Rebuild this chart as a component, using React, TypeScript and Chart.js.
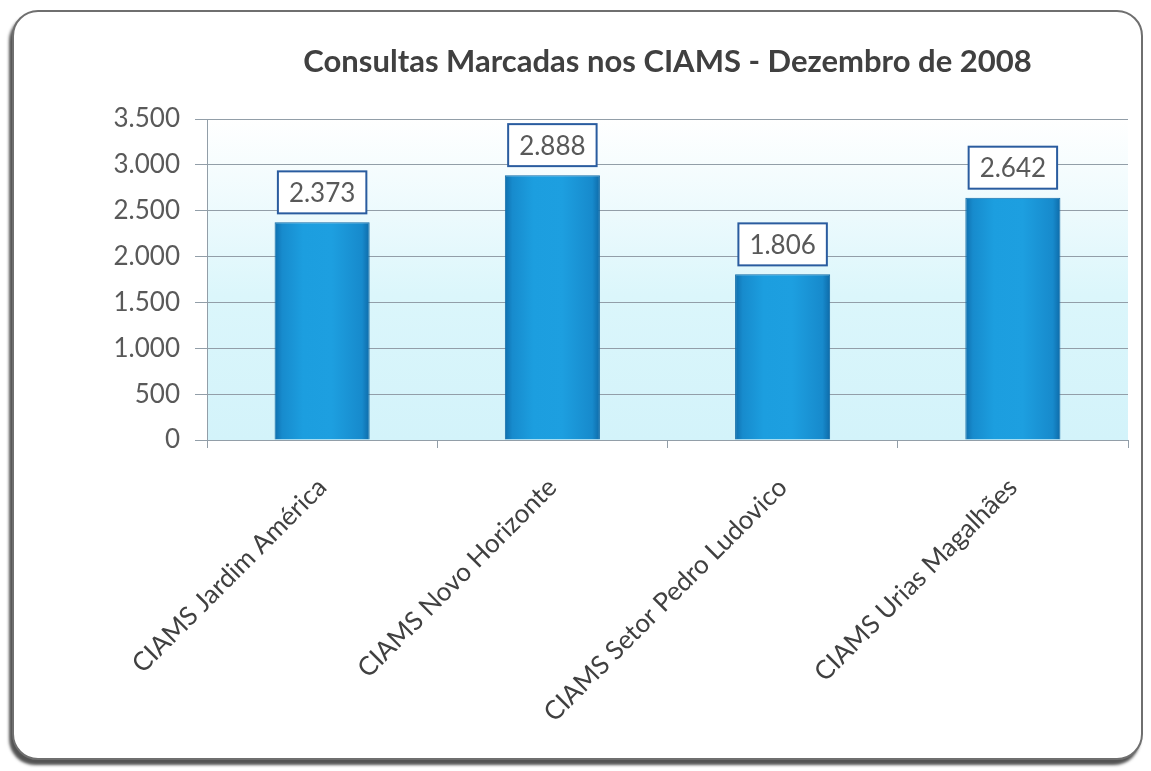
import React, { useEffect, useRef } from "react";
import { Chart, registerables } from "chart.js";

Chart.register(...registerables);

const chartTitle = "Consultas Marcadas nos CIAMS - Dezembro de 2008";
const categories = [
  "CIAMS Jardim América",
  "CIAMS Novo Horizonte",
  "CIAMS Setor Pedro Ludovico",
  "CIAMS Urias Magalhães",
];
const consultas = [2373, 2888, 1806, 2642];
const yMin = 0;
const yMax = 3500;
const yStep = 500;

const FONT = "Lato, 'Open Sans', sans-serif";

function fmt(v: number): string {
  const s = Math.round(v).toString();
  return s.replace(/\B(?=(\d{3})+(?!\d))/g, ".");
}

const CAT_PCT = 1;
const BAR_PCT = 0.413;

const plotBgPlugin = {
  id: "plotBg",
  beforeDraw(chart: any) {
    const { ctx, chartArea } = chart;
    if (!chartArea) return;
    const g = ctx.createLinearGradient(0, chartArea.top, 0, chartArea.bottom);
    g.addColorStop(0, "#ffffff");
    g.addColorStop(0.3, "#ecfafd");
    g.addColorStop(0.55, "#dbf6fb");
    g.addColorStop(1, "#d3f3fa");
    ctx.save();
    ctx.fillStyle = g;
    ctx.fillRect(
      chartArea.left,
      chartArea.top,
      chartArea.right - chartArea.left,
      chartArea.bottom - chartArea.top
    );
    ctx.restore();
  },
};

const labelPlugin = {
  id: "valueBoxes",
  afterDatasetsDraw(chart: any) {
    const { ctx } = chart;
    const meta = chart.getDatasetMeta(0);
    ctx.save();
    ctx.font = `26px ${FONT}`;
    meta.data.forEach((bar: any, i: number) => {
      const txt = fmt(consultas[i]);
      const tw = ctx.measureText(txt).width;
      const w = tw + 22;
      const h = 42;
      const bottom = bar.y - 9;
      const left = bar.x - w / 2;
      ctx.fillStyle = "#ffffff";
      ctx.fillRect(left, bottom - h, w, h);
      ctx.strokeStyle = "#2a5c9f";
      ctx.lineWidth = 2;
      ctx.strokeRect(left, bottom - h, w, h);
      ctx.fillStyle = "#595959";
      ctx.textAlign = "center";
      ctx.textBaseline = "middle";
      ctx.fillText(txt, bar.x, bottom - h / 2 + 1);
    });
    ctx.restore();
  },
};

function barFill(c: any) {
  const chart = c.chart;
  const xs = chart.scales?.x;
  if (!xs || typeof c.dataIndex !== "number") return "#1c9ad8";
  const cx = xs.getPixelForValue(c.dataIndex);
  const catW = (xs.right - xs.left) / categories.length;
  const half = (catW * CAT_PCT * BAR_PCT) / 2;
  if (!isFinite(cx) || !isFinite(half) || half <= 0) return "#1c9ad8";
  const g = chart.ctx.createLinearGradient(cx - half, 0, cx + half, 0);
  g.addColorStop(0, "#0f6fae");
  g.addColorStop(0.08, "#178bcd");
  g.addColorStop(0.3, "#1c9edf");
  g.addColorStop(0.6, "#1d9fe0");
  g.addColorStop(0.92, "#178acc");
  g.addColorStop(1, "#0e6aa8");
  return g;
}

export default function App() {
  const ref = useRef<HTMLCanvasElement | null>(null);
  useEffect(() => {
    if (!ref.current) return;
    const chart = new Chart(ref.current, {
      type: "bar",
      data: {
        labels: categories,
        datasets: [
          {
            data: consultas,
            backgroundColor: barFill as any,
            borderColor: "#0f6aa6",
            borderWidth: 1,
            categoryPercentage: CAT_PCT,
            barPercentage: BAR_PCT,
          },
        ],
      },
      options: {
        animation: false,
        responsive: false,
        maintainAspectRatio: false,
        layout: { padding: { left: 0, right: 23, top: 0, bottom: 0 } },
        plugins: {
          legend: { display: false },
          tooltip: { enabled: false },
          title: {
            display: true,
            text: chartTitle,
            fullSize: false,
            color: "#404040",
            font: { family: FONT, size: 31, weight: "bold", lineHeight: 1.2 },
            padding: { top: 43, bottom: 38.8 },
          },
        },
        scales: {
          x: {
            afterFit: (s: any) => {
              s.height = 331;
            },
            grid: {
              display: true,
              drawOnChartArea: false,
              drawTicks: true,
              tickLength: 8,
              color: "#929ea8",
              offset: true,
            },
            border: { display: true, color: "#929ea8", width: 1 },
            ticks: {
              minRotation: 45,
              maxRotation: 45,
              autoSkip: false,
              padding: 24,
              color: "#404040",
              font: { family: FONT, size: 26 },
            },
          },
          y: {
            min: yMin,
            max: yMax,
            afterFit: (s: any) => {
              s.width = 207;
            },
            grid: {
              color: "#929ea8",
              lineWidth: 1,
              drawTicks: true,
              tickLength: 12,
            },
            border: { display: true, color: "#929ea8", width: 1 },
            ticks: {
              stepSize: yStep,
              padding: 15,
              color: "#595959",
              font: { family: FONT, size: 26 },
              callback: (v: any) => fmt(Number(v)),
            },
          },
        },
      },
      plugins: [plotBgPlugin, labelPlugin],
    });
    return () => chart.destroy();
  }, []);

  return (
    <div
      style={{
        position: "fixed",
        left: 0,
        top: 0,
        width: 1151,
        height: 771,
        background: "#ffffff",
        overflow: "hidden",
      }}
    >
      <div
        style={{
          position: "absolute",
          left: 12,
          top: 10,
          width: 1127,
          height: 746,
          border: "2px solid #6f6f6f",
          borderRadius: 26,
          boxShadow: "-3px 5px 3px rgba(40,40,40,0.8)",
          background: "#ffffff",
        }}
      />
      <canvas
        ref={ref}
        width={1151}
        height={771}
        style={{ position: "absolute", left: 0, top: 0 }}
      />
    </div>
  );
}
